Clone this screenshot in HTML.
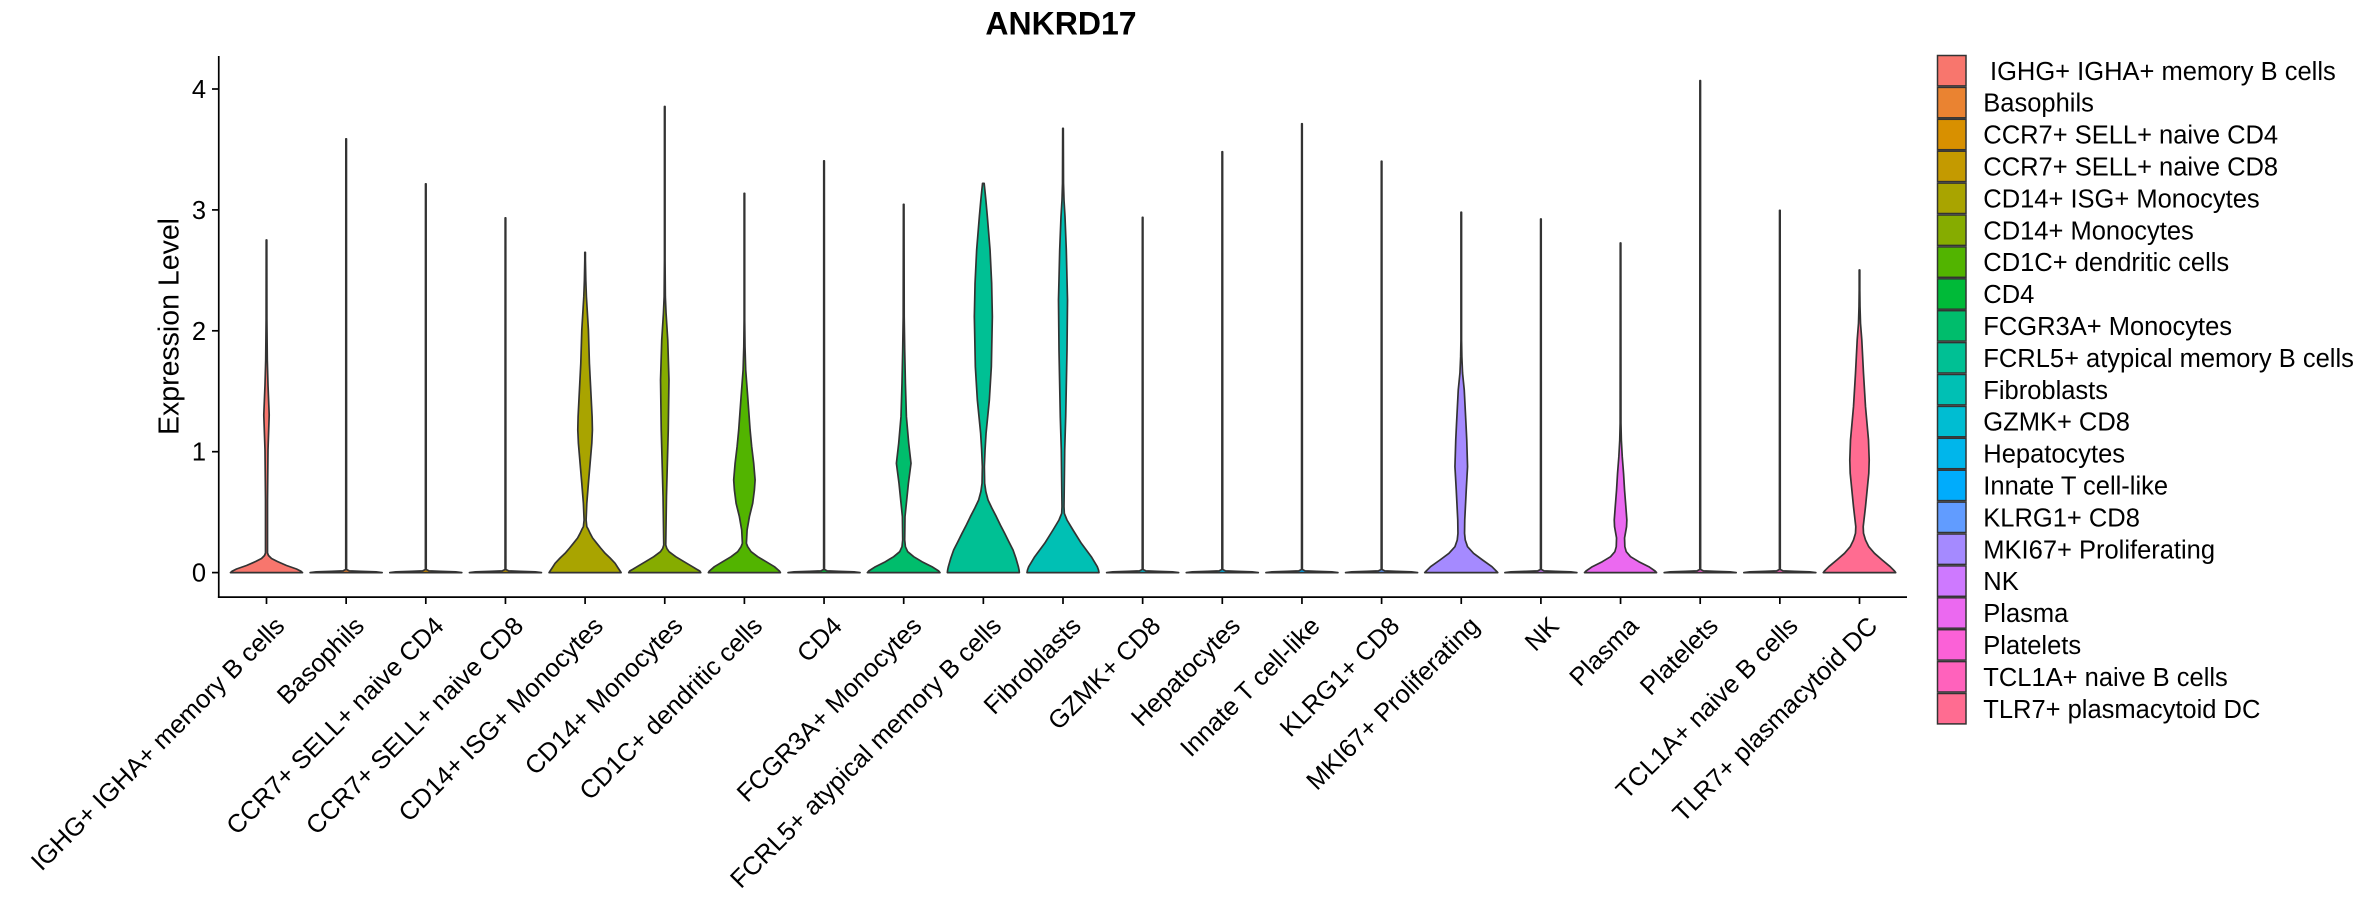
<!DOCTYPE html>
<html>
<head>
<meta charset="utf-8">
<style>
html,body{margin:0;padding:0;background:#fff;}
svg{display:block;}
text{font-family:"Liberation Sans",Arial,sans-serif;fill:#000;}
</style>
</head>
<body>
<svg width="2362" height="900" viewBox="0 0 2362 900" xmlns="http://www.w3.org/2000/svg">
<rect x="0" y="0" width="2362" height="900" fill="#fff"/>

<!-- Title -->
<text x="1061" y="34.3" font-size="32" font-weight="bold" text-anchor="middle">ANKRD17</text>

<!-- Y axis title -->
<text transform="translate(178.5,326.5) rotate(-90)" font-size="28.5" text-anchor="middle">Expression Level</text>

<!-- Violins -->
<g stroke="#333333" stroke-width="1.7" stroke-linejoin="round">
<!-- 0 IGHG -->
<g transform="translate(266.5,0)" fill="#F8766D"><path d="M-36,572.6 L36,572.6 L34.5,571.3 L30,569 L20,565.5 L10.9,561.5 L5,558.5 L2,555.5 L1,553 L1,500 L1.5,450 L2.7,415 L1.5,385 L0.8,360 L0.4,320 L0.3,240 L-0.3,240 L-0.4,320 L-0.8,360 L-1.5,385 L-2.7,415 L-1.5,450 L-1,500 L-1,553 L-2,555.5 L-5,558.5 L-10.9,561.5 L-20,565.5 L-30,569 L-34.5,571.3 Z"/></g>
<!-- 1 Basophils -->
<g transform="translate(346.15,0)" fill="#EA8331"><path d="M-36,572.6 L36,572.6 L30,571.9 L15,571.3 L3,570.8 L0.4,569.5 L0.3,138.8 L-0.3,138.8 L-0.4,569.5 L-3,570.8 L-15,571.3 L-30,571.9 Z"/></g>
<!-- 2 CCR7 CD4 -->
<g transform="translate(425.8,0)" fill="#D89000"><path d="M-36,572.6 L36,572.6 L30,571.9 L15,571.3 L3,570.8 L0.4,569.5 L0.3,183.9 L-0.3,183.9 L-0.4,569.5 L-3,570.8 L-15,571.3 L-30,571.9 Z"/></g>
<!-- 3 CCR7 CD8 -->
<g transform="translate(505.45,0)" fill="#C49A00"><path d="M-36,572.6 L36,572.6 L30,571.9 L15,571.3 L3,570.8 L0.4,569.5 L0.3,217.9 L-0.3,217.9 L-0.4,569.5 L-3,570.8 L-15,571.3 L-30,571.9 Z"/></g>
<!-- 4 CD14 ISG -->
<g transform="translate(585.1,0)" fill="#A9A400"><path d="M-36,572.6 L36,572.6 L35,571 L33,568 L30,563.3 L25,558 L20,553.3 L15.5,548 L11.7,543.3 L7.5,538 L5,533.3 L3,529 L1.7,526.7 L1,520 L1.7,503.3 L3.3,483.3 L5,463.3 L6.7,443.3 L7.3,430 L7,416.7 L6,396.7 L4.3,363.3 L3.3,330 L1.3,296.7 L0.7,280 L0.3,260 L0.3,252.3 L-0.3,252.3 L-0.3,260 L-0.7,280 L-1.3,296.7 L-3.3,330 L-4.3,363.3 L-6,396.7 L-7,416.7 L-7.3,430 L-6.7,443.3 L-5,463.3 L-3.3,483.3 L-1.7,503.3 L-1,520 L-1.7,526.7 L-3,529 L-5,533.3 L-7.5,538 L-11.7,543.3 L-15.5,548 L-20,553.3 L-25,558 L-30,563.3 L-33,568 L-35,571 Z"/></g>
<!-- 5 CD14 Mono -->
<g transform="translate(664.75,0)" fill="#86AC00"><path d="M-36,572.6 L36,572.6 L35,571 L31.5,569 L27.7,566.7 L19.3,561.7 L11,556.7 L4.3,551.7 L2,548.3 L1,545 L1.7,496.7 L3.5,430 L4.2,380 L3,340 L1.3,313 L0.6,296.7 L0.3,260 L0.3,106.5 L-0.3,106.5 L-0.3,260 L-0.6,296.7 L-1.3,313 L-3,340 L-4.2,380 L-3.5,430 L-1.7,496.7 L-1,545 L-2,548.3 L-4.3,551.7 L-11,556.7 L-19.3,561.7 L-27.7,566.7 L-31.5,569 L-35,571 Z"/></g>
<!-- 6 CD1C -->
<g transform="translate(744.4,0)" fill="#52B400"><path d="M-36,572.6 L36,572.6 L35,571 L30,566.7 L21.7,561.7 L13.3,556.7 L6.7,551.7 L3.3,546.7 L2,543.3 L2.7,530 L5,516.7 L8.3,503.3 L10,490 L10.7,480 L9.3,463.3 L7.3,446.7 L5.7,430 L3.3,396.7 L1.3,370 L0.6,346.7 L0.3,320 L0.3,193.3 L-0.3,193.3 L-0.3,320 L-0.6,346.7 L-1.3,370 L-3.3,396.7 L-5.7,430 L-7.3,446.7 L-9.3,463.3 L-10.7,480 L-10,490 L-8.3,503.3 L-5,516.7 L-2.7,530 L-2,543.3 L-3.3,546.7 L-6.7,551.7 L-13.3,556.7 L-21.7,561.7 L-30,566.7 L-35,571 Z"/></g>
<!-- 7 CD4 -->
<g transform="translate(824.05,0)" fill="#00BA38"><path d="M-36,572.6 L36,572.6 L30,571.9 L15,571.3 L3,570.8 L0.4,569.5 L0.3,160.8 L-0.3,160.8 L-0.4,569.5 L-3,570.8 L-15,571.3 L-30,571.9 Z"/></g>
<!-- 8 FCGR3A -->
<g transform="translate(903.7,0)" fill="#00BD6C"><path d="M-36.3,572.6 L36.3,572.6 L35,571 L28.3,566.7 L18.3,561.7 L10,556.7 L4,551.7 L1.7,546.7 L1,540 L1.3,516.7 L4.7,483.3 L7.3,463.3 L5,443.3 L2.7,416.7 L1.7,383.3 L1,350 L0.5,316.7 L0.3,204.3 L-0.3,204.3 L-0.5,316.7 L-1,350 L-1.7,383.3 L-2.7,416.7 L-5,443.3 L-7.3,463.3 L-4.7,483.3 L-1.3,516.7 L-1,540 L-1.7,546.7 L-4,551.7 L-10,556.7 L-18.3,561.7 L-28.3,566.7 L-35,571 Z"/></g>
<!-- 9 FCRL5 -->
<g transform="translate(983.35,0)" fill="#00C094"><path d="M-36,572.6 L36,572.6 L35.7,570 L35,566.7 L32.5,558 L29.7,550 L25.5,541.7 L21.3,533.3 L17,525 L13,516.7 L8.5,508 L4.7,500 L2.5,491.7 L1.3,483.3 L1,466.7 L1.7,450 L2.7,433.3 L6,400 L8,366.7 L9,316.7 L8.3,283.3 L6.7,250 L4,216.7 L2.5,200 L1.5,190 L0.8,183.3 L-0.8,183.3 L-1.5,190 L-2.5,200 L-4,216.7 L-6.7,250 L-8.3,283.3 L-9,316.7 L-8,366.7 L-6,400 L-2.7,433.3 L-1.7,450 L-1,466.7 L-1.3,483.3 L-2.5,491.7 L-4.7,500 L-8.5,508 L-13,516.7 L-17,525 L-21.3,533.3 L-25.5,541.7 L-29.7,550 L-32.5,558 L-35,566.7 L-35.7,570 Z"/></g>
<!-- 10 Fibroblasts -->
<g transform="translate(1063,0)" fill="#00C0B4"><path d="M-36,572.6 L36,572.6 L35.5,570 L34.3,566.7 L28.3,556.7 L18.3,543.3 L10,530 L4,520 L1.3,513.3 L1,506.7 L1.7,450 L2.7,416.7 L4,350 L4.5,300 L3.3,250 L2,216.7 L1,200 L0.5,183.3 L0.3,128.4 L-0.3,128.4 L-0.5,183.3 L-1,200 L-2,216.7 L-3.3,250 L-4.5,300 L-4,350 L-2.7,416.7 L-1.7,450 L-1,506.7 L-1.3,513.3 L-4,520 L-10,530 L-18.3,543.3 L-28.3,556.7 L-34.3,566.7 L-35.5,570 Z"/></g>
<!-- 11 GZMK -->
<g transform="translate(1142.65,0)" fill="#00BDD2"><path d="M-36,572.6 L36,572.6 L30,571.9 L15,571.3 L3,570.8 L0.4,569.5 L0.3,217.4 L-0.3,217.4 L-0.4,569.5 L-3,570.8 L-15,571.3 L-30,571.9 Z"/></g>
<!-- 12 Hepatocytes -->
<g transform="translate(1222.3,0)" fill="#00B6EB"><path d="M-36,572.6 L36,572.6 L30,571.9 L15,571.3 L3,570.8 L0.4,569.5 L0.3,151.7 L-0.3,151.7 L-0.4,569.5 L-3,570.8 L-15,571.3 L-30,571.9 Z"/></g>
<!-- 13 Innate -->
<g transform="translate(1301.95,0)" fill="#00ACFC"><path d="M-36,572.6 L36,572.6 L30,571.9 L15,571.3 L3,570.8 L0.4,569.5 L0.3,123.7 L-0.3,123.7 L-0.4,569.5 L-3,570.8 L-15,571.3 L-30,571.9 Z"/></g>
<!-- 14 KLRG1 -->
<g transform="translate(1381.6,0)" fill="#619CFF"><path d="M-36,572.6 L36,572.6 L30,571.9 L15,571.3 L3,570.8 L0.4,569.5 L0.3,161.2 L-0.3,161.2 L-0.4,569.5 L-3,570.8 L-15,571.3 L-30,571.9 Z"/></g>
<!-- 15 MKI67 -->
<g transform="translate(1461.25,0)" fill="#A58AFF"><path d="M-36.5,572.6 L36.5,572.6 L35,571 L30.7,566.7 L21.3,560 L12.3,553.3 L6.3,546.7 L4,540 L3.3,533.3 L3.5,520 L5,490 L6.3,466.7 L5.5,440 L4.7,423.3 L3,390 L1.3,373 L0.6,356.7 L0.3,340 L0.3,212.2 L-0.3,212.2 L-0.3,340 L-0.6,356.7 L-1.3,373 L-3,390 L-4.7,423.3 L-5.5,440 L-6.3,466.7 L-5,490 L-3.5,520 L-3.3,533.3 L-4,540 L-6.3,546.7 L-12.3,553.3 L-21.3,560 L-30.7,566.7 L-35,571 Z"/></g>
<!-- 16 NK -->
<g transform="translate(1540.9,0)" fill="#CE79FF"><path d="M-36,572.6 L36,572.6 L30,571.9 L15,571.3 L3,570.8 L0.4,569.5 L0.3,219 L-0.3,219 L-0.4,569.5 L-3,570.8 L-15,571.3 L-30,571.9 Z"/></g>
<!-- 17 Plasma -->
<g transform="translate(1620.55,0)" fill="#EB69F0"><path d="M-36,572.6 L36,572.6 L34.5,571 L28.3,566.7 L18.3,561.7 L10,556.7 L5.7,551.7 L4.3,546.7 L4,538 L6,526.7 L6.3,520 L5.3,506.7 L4,490 L3,473.3 L1.7,456.7 L0.8,440 L0.4,423.3 L0.3,243 L-0.3,243 L-0.4,423.3 L-0.8,440 L-1.7,456.7 L-3,473.3 L-4,490 L-5.3,506.7 L-6.3,520 L-6,526.7 L-4,538 L-4.3,546.7 L-5.7,551.7 L-10,556.7 L-18.3,561.7 L-28.3,566.7 L-34.5,571 Z"/></g>
<!-- 18 Platelets -->
<g transform="translate(1700.2,0)" fill="#FB61D7"><path d="M-36,572.6 L36,572.6 L30,571.9 L15,571.3 L3,570.8 L0.4,569.5 L0.3,80.6 L-0.3,80.6 L-0.4,569.5 L-3,570.8 L-15,571.3 L-30,571.9 Z"/></g>
<!-- 19 TCL1A -->
<g transform="translate(1779.85,0)" fill="#FF62BC"><path d="M-36,572.6 L36,572.6 L30,571.9 L15,571.3 L3,570.8 L0.4,569.5 L0.3,210.3 L-0.3,210.3 L-0.4,569.5 L-3,570.8 L-15,571.3 L-30,571.9 Z"/></g>
<!-- 20 TLR7 -->
<g transform="translate(1859.5,0)" fill="#FF6C91"><path d="M-36.2,572.6 L36.2,572.6 L35,571 L30.7,566.7 L22.7,560 L15,553.3 L9.3,546.7 L6,540 L4,533.3 L3.7,526.7 L6,506.7 L9.3,473.3 L9.7,460 L9,440 L6,406.7 L4,373.3 L2.3,340 L1,323.3 L0.5,306.7 L0.3,290 L0.3,270 L-0.3,270 L-0.3,290 L-0.5,306.7 L-1,323.3 L-2.3,340 L-4,373.3 L-6,406.7 L-9,440 L-9.7,460 L-9.3,473.3 L-6,506.7 L-3.7,526.7 L-4,533.3 L-6,540 L-9.3,546.7 L-15,553.3 L-22.7,560 L-30.7,566.7 L-35,571 Z"/></g>
</g>

<!-- Axes -->
<g stroke="#000" stroke-width="1.7" fill="none">
<line x1="218.75" y1="56" x2="218.75" y2="597.9"/>
<line x1="217.9" y1="597.1" x2="1907" y2="597.1"/>
<!-- y ticks -->
<line x1="212" y1="572.6" x2="218.75" y2="572.6"/>
<line x1="212" y1="451.7" x2="218.75" y2="451.7"/>
<line x1="212" y1="330.8" x2="218.75" y2="330.8"/>
<line x1="212" y1="209.9" x2="218.75" y2="209.9"/>
<line x1="212" y1="89" x2="218.75" y2="89"/>
<!-- x ticks -->
<line x1="266.5" y1="597" x2="266.5" y2="604"/>
<line x1="346.15" y1="597" x2="346.15" y2="604"/>
<line x1="425.8" y1="597" x2="425.8" y2="604"/>
<line x1="505.45" y1="597" x2="505.45" y2="604"/>
<line x1="585.1" y1="597" x2="585.1" y2="604"/>
<line x1="664.75" y1="597" x2="664.75" y2="604"/>
<line x1="744.4" y1="597" x2="744.4" y2="604"/>
<line x1="824.05" y1="597" x2="824.05" y2="604"/>
<line x1="903.7" y1="597" x2="903.7" y2="604"/>
<line x1="983.35" y1="597" x2="983.35" y2="604"/>
<line x1="1063" y1="597" x2="1063" y2="604"/>
<line x1="1142.65" y1="597" x2="1142.65" y2="604"/>
<line x1="1222.3" y1="597" x2="1222.3" y2="604"/>
<line x1="1301.95" y1="597" x2="1301.95" y2="604"/>
<line x1="1381.6" y1="597" x2="1381.6" y2="604"/>
<line x1="1461.25" y1="597" x2="1461.25" y2="604"/>
<line x1="1540.9" y1="597" x2="1540.9" y2="604"/>
<line x1="1620.55" y1="597" x2="1620.55" y2="604"/>
<line x1="1700.2" y1="597" x2="1700.2" y2="604"/>
<line x1="1779.85" y1="597" x2="1779.85" y2="604"/>
<line x1="1859.5" y1="597" x2="1859.5" y2="604"/>
</g>

<!-- y tick labels -->
<g font-size="25.5" text-anchor="end">
<text x="206" y="581.6">0</text>
<text x="206" y="460.7">1</text>
<text x="206" y="339.8">2</text>
<text x="206" y="218.9">3</text>
<text x="206" y="98">4</text>
</g>

<!-- x tick labels -->
<g font-size="25.5" text-anchor="end">
<text transform="translate(286,627.5) rotate(-45)">IGHG+ IGHA+ memory B cells</text>
<text transform="translate(365.65,627.5) rotate(-45)">Basophils</text>
<text transform="translate(445.3,627.5) rotate(-45)">CCR7+ SELL+ naive CD4</text>
<text transform="translate(524.95,627.5) rotate(-45)">CCR7+ SELL+ naive CD8</text>
<text transform="translate(604.6,627.5) rotate(-45)">CD14+ ISG+ Monocytes</text>
<text transform="translate(684.25,627.5) rotate(-45)">CD14+ Monocytes</text>
<text transform="translate(763.9,627.5) rotate(-45)">CD1C+ dendritic cells</text>
<text transform="translate(843.55,627.5) rotate(-45)">CD4</text>
<text transform="translate(923.2,627.5) rotate(-45)">FCGR3A+ Monocytes</text>
<text transform="translate(1002.85,627.5) rotate(-45)">FCRL5+ atypical memory B cells</text>
<text transform="translate(1082.5,627.5) rotate(-45)">Fibroblasts</text>
<text transform="translate(1162.15,627.5) rotate(-45)">GZMK+ CD8</text>
<text transform="translate(1241.8,627.5) rotate(-45)">Hepatocytes</text>
<text transform="translate(1321.45,627.5) rotate(-45)">Innate T cell-like</text>
<text transform="translate(1401.1,627.5) rotate(-45)">KLRG1+ CD8</text>
<text transform="translate(1480.75,627.5) rotate(-45)">MKI67+ Proliferating</text>
<text transform="translate(1560.4,627.5) rotate(-45)">NK</text>
<text transform="translate(1640.05,627.5) rotate(-45)">Plasma</text>
<text transform="translate(1719.7,627.5) rotate(-45)">Platelets</text>
<text transform="translate(1799.35,627.5) rotate(-45)">TCL1A+ naive B cells</text>
<text transform="translate(1879,627.5) rotate(-45)">TLR7+ plasmacytoid DC</text>
</g>

<!-- Legend keys -->
<g stroke="#333333" stroke-width="1.5">
<rect x="1937.5" y="55.5" width="28.5" height="30.4" fill="#F8766D"/>
<rect x="1937.5" y="87.4" width="28.5" height="30.4" fill="#EA8331"/>
<rect x="1937.5" y="119.3" width="28.5" height="30.4" fill="#D89000"/>
<rect x="1937.5" y="151.2" width="28.5" height="30.4" fill="#C49A00"/>
<rect x="1937.5" y="183.1" width="28.5" height="30.4" fill="#A9A400"/>
<rect x="1937.5" y="215" width="28.5" height="30.4" fill="#86AC00"/>
<rect x="1937.5" y="246.9" width="28.5" height="30.4" fill="#52B400"/>
<rect x="1937.5" y="278.8" width="28.5" height="30.4" fill="#00BA38"/>
<rect x="1937.5" y="310.7" width="28.5" height="30.4" fill="#00BD6C"/>
<rect x="1937.5" y="342.6" width="28.5" height="30.4" fill="#00C094"/>
<rect x="1937.5" y="374.5" width="28.5" height="30.4" fill="#00C0B4"/>
<rect x="1937.5" y="406.4" width="28.5" height="30.4" fill="#00BDD2"/>
<rect x="1937.5" y="438.3" width="28.5" height="30.4" fill="#00B6EB"/>
<rect x="1937.5" y="470.2" width="28.5" height="30.4" fill="#00ACFC"/>
<rect x="1937.5" y="502.1" width="28.5" height="30.4" fill="#619CFF"/>
<rect x="1937.5" y="534" width="28.5" height="30.4" fill="#A58AFF"/>
<rect x="1937.5" y="565.9" width="28.5" height="30.4" fill="#CE79FF"/>
<rect x="1937.5" y="597.8" width="28.5" height="30.4" fill="#EB69F0"/>
<rect x="1937.5" y="629.7" width="28.5" height="30.4" fill="#FB61D7"/>
<rect x="1937.5" y="661.6" width="28.5" height="30.4" fill="#FF62BC"/>
<rect x="1937.5" y="693.5" width="28.5" height="30.4" fill="#FF6C91"/>
</g>

<!-- Legend labels -->
<g font-size="25.5">
<text x="1990" y="79.8">IGHG+ IGHA+ memory B cells</text>
<text x="1983.3" y="111.7">Basophils</text>
<text x="1983.3" y="143.6">CCR7+ SELL+ naive CD4</text>
<text x="1983.3" y="175.5">CCR7+ SELL+ naive CD8</text>
<text x="1983.3" y="207.4">CD14+ ISG+ Monocytes</text>
<text x="1983.3" y="239.3">CD14+ Monocytes</text>
<text x="1983.3" y="271.2">CD1C+ dendritic cells</text>
<text x="1983.3" y="303.1">CD4</text>
<text x="1983.3" y="335">FCGR3A+ Monocytes</text>
<text x="1983.3" y="366.9">FCRL5+ atypical memory B cells</text>
<text x="1983.3" y="398.8">Fibroblasts</text>
<text x="1983.3" y="430.7">GZMK+ CD8</text>
<text x="1983.3" y="462.6">Hepatocytes</text>
<text x="1983.3" y="494.5">Innate T cell-like</text>
<text x="1983.3" y="526.4">KLRG1+ CD8</text>
<text x="1983.3" y="558.3">MKI67+ Proliferating</text>
<text x="1983.3" y="590.2">NK</text>
<text x="1983.3" y="622.1">Plasma</text>
<text x="1983.3" y="654">Platelets</text>
<text x="1983.3" y="685.9">TCL1A+ naive B cells</text>
<text x="1983.3" y="717.8">TLR7+ plasmacytoid DC</text>
</g>
</svg>
</body>
</html>
